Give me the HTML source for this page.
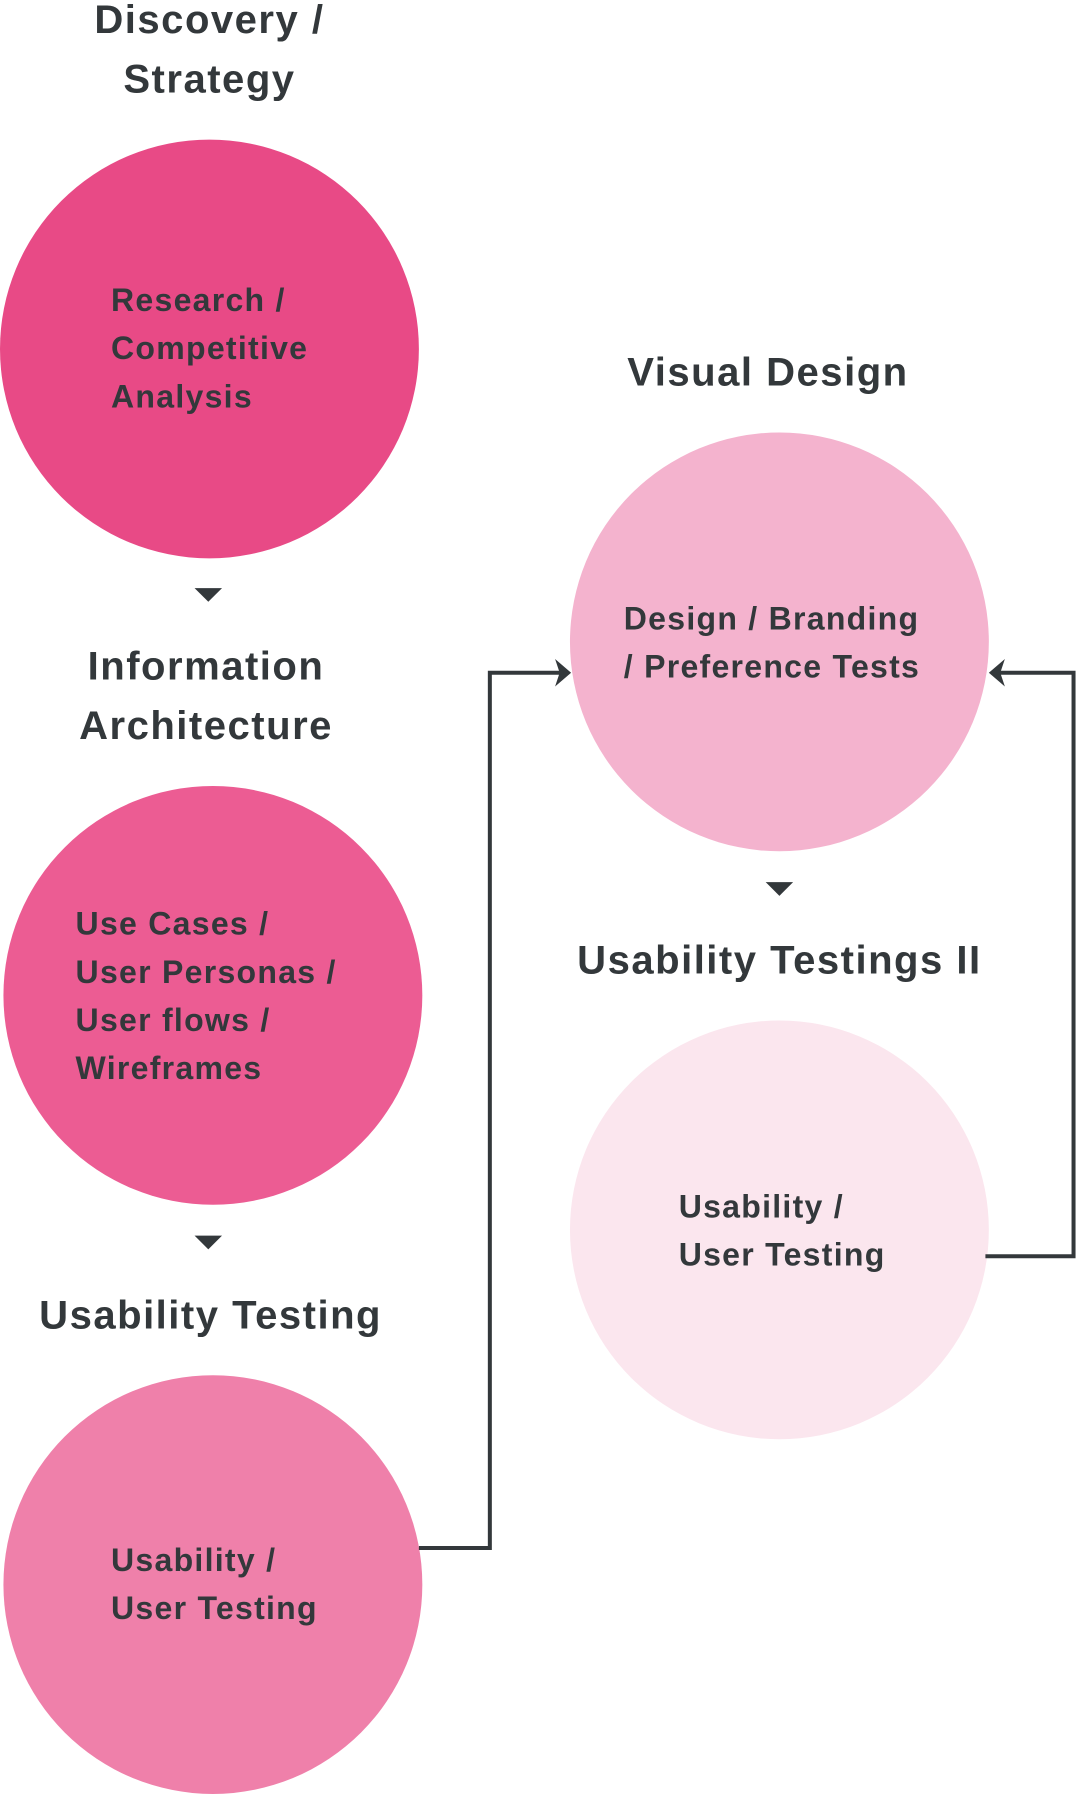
<!DOCTYPE html>
<html><head><meta charset="utf-8"><style>
html,body{margin:0;padding:0;background:#fff;width:1077px;height:1794px;overflow:hidden}
#s{position:absolute;left:0;top:0;width:941px;height:1568px;transform:scale(1.1445,1.1441);transform-origin:0 0}
.c{position:absolute;width:366px;height:366px;border-radius:50%}
.t{position:absolute;font-family:"Liberation Sans",sans-serif;font-weight:bold;color:#33383b;white-space:nowrap}
.h{font-size:35px;line-height:52px;text-align:center;transform:translateX(-50%);letter-spacing:1.3px}
.b{font-size:28px;line-height:42px;letter-spacing:1.1px}
</style></head><body><div id="s">
<div class="c" style="left:0;top:122px;background:#E84A86"></div>
<div class="c" style="left:3px;top:687px;background:#EC5C93"></div>
<div class="c" style="left:3px;top:1202px;background:#EF80AA"></div>
<div class="c" style="left:498px;top:378px;background:#F4B3CE"></div>
<div class="c" style="left:498px;top:892px;background:#FBE6EE"></div>
<svg width="941" height="1568" style="position:absolute;left:0;top:0">
<g fill="#33383b">
<polygon points="170,514 194,514 182,526"/>
<polygon points="170,1080 194,1080 182,1092"/>
<polygon points="669,771 693,771 681,783"/>
<polygon points="485,576 499,588 485,600 489,588"/>
<polygon points="878,576 864,588 878,600 874,588"/>
</g>
<g fill="none" stroke="#33383b" stroke-width="3.5">
<polyline points="366,1353 428,1353 428,588 492,588"/>
<polyline points="861,1098 938,1098 938,588 871,588"/>
</g>
</svg>
<div class="t h" style="left:183px;top:-8px">Discovery /<br>Strategy</div>
<div class="t b" style="left:97px;top:242px">Research /<br>Competitive<br>Analysis</div>
<div class="t h" style="left:180px;top:557px">Information<br>Architecture</div>
<div class="t b" style="left:66px;top:787px">Use Cases /<br>User Personas /<br>User flows /<br>Wireframes</div>
<div class="t h" style="left:184px;top:1124px">Usability Testing</div>
<div class="t b" style="left:97px;top:1343px">Usability /<br>User Testing</div>
<div class="t h" style="left:671px;top:300px">Visual Design</div>
<div class="t b" style="left:545px;top:520px">Design / Branding<br>/ Preference Tests</div>
<div class="t h" style="left:681px;top:814px">Usability Testings II</div>
<div class="t b" style="left:593px;top:1034px">Usability /<br>User Testing</div>
</div></body></html>
